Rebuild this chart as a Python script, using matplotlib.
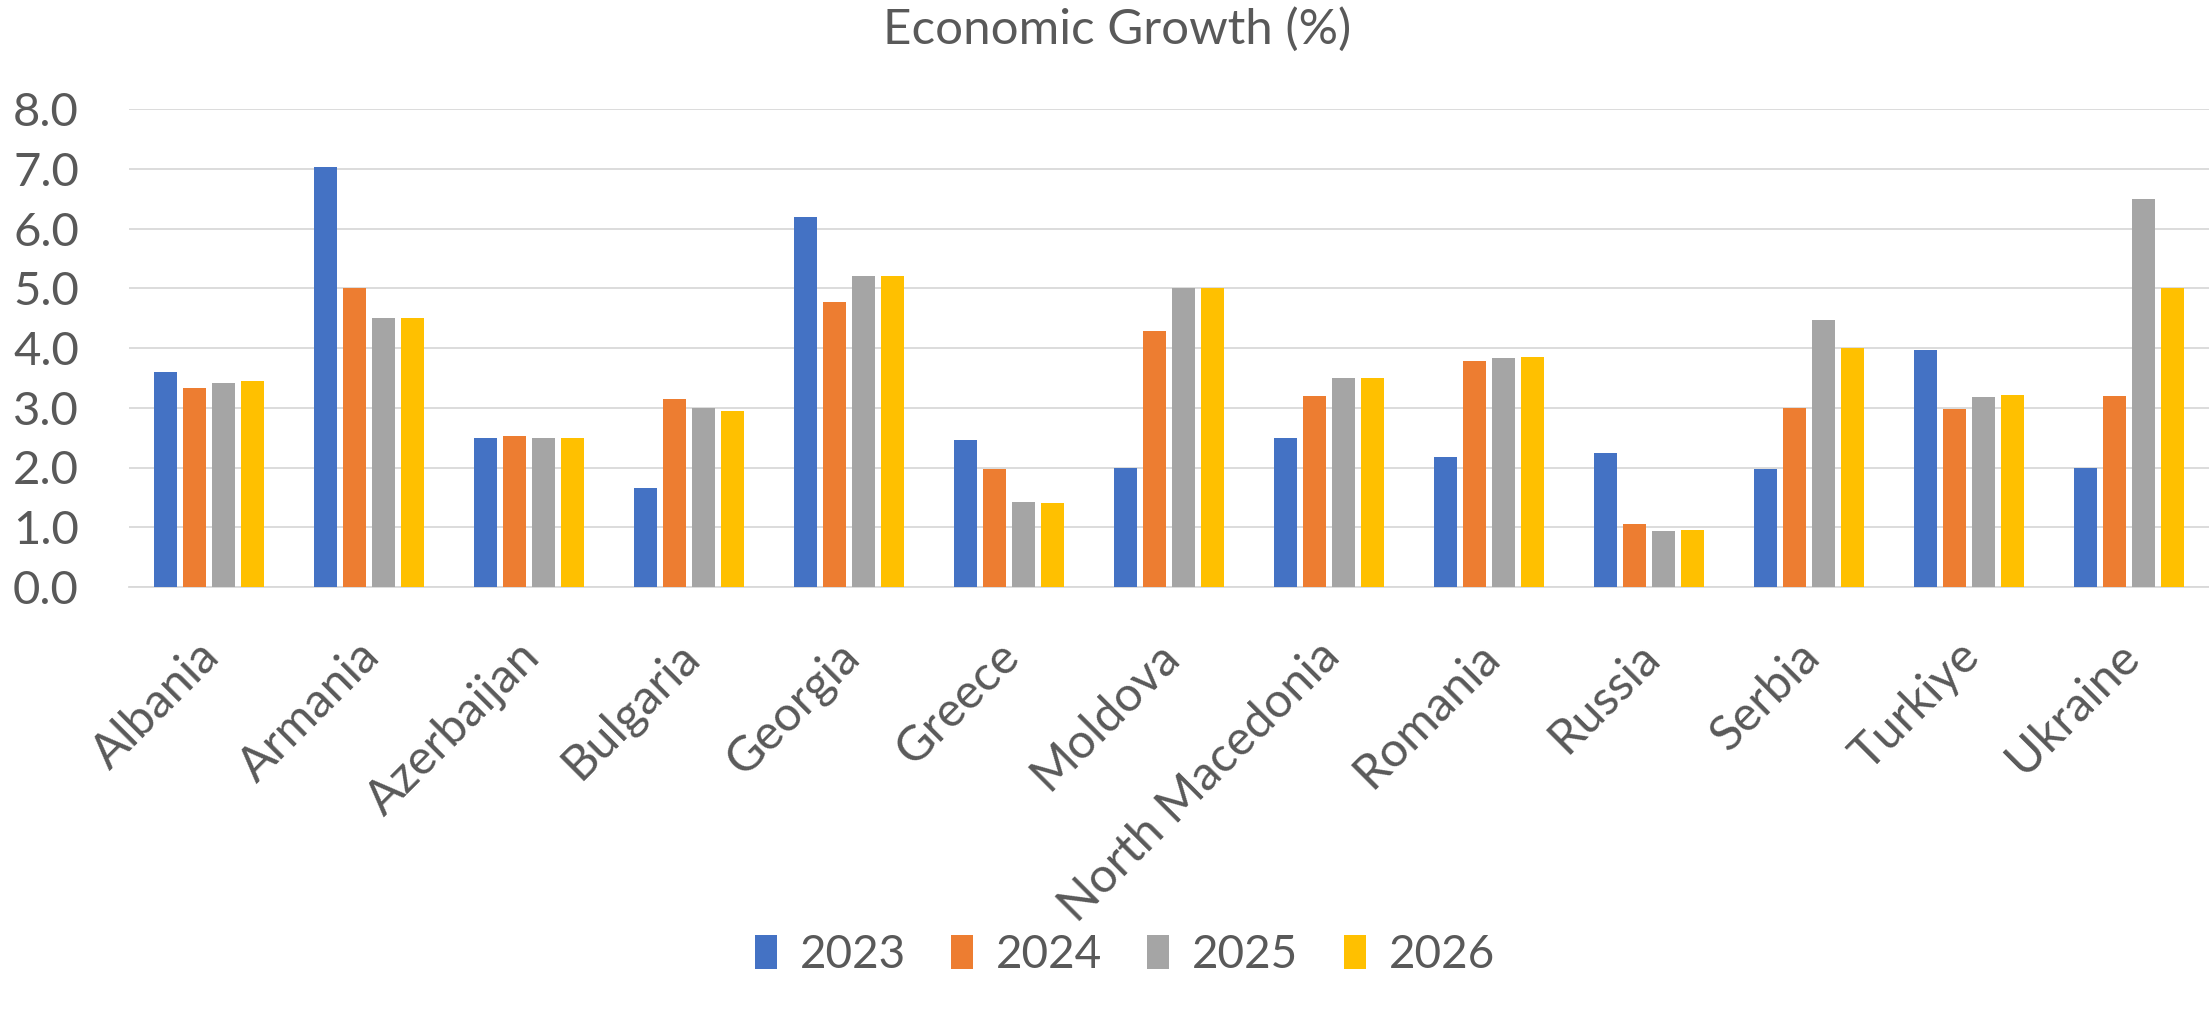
import matplotlib
matplotlib.use("Agg")
import matplotlib.pyplot as plt
import matplotlib.transforms as mtransforms
import numpy as np

# data
countries = ["Albania", "Armania", "Azerbaijan", "Bulgaria", "Georgia", "Greece", "Moldova",
             "North Macedonia", "Romania", "Russia", "Serbia", "Turkiye", "Ukraine"]
years = ["2023", "2024", "2025", "2026"]
g2023 = [3.60, 7.03, 2.50, 1.66, 6.19, 2.46, 2.00, 2.50, 2.18, 2.25, 1.97, 3.96, 2.00]
g2024 = [3.33, 5.00, 2.53, 3.15, 4.77, 1.97, 4.28, 3.19, 3.78, 1.05, 3.00, 2.98, 3.19]
g2025 = [3.42, 4.50, 2.50, 3.00, 5.20, 1.42, 5.00, 3.50, 3.84, 0.94, 4.47, 3.18, 6.50]
g2026 = [3.45, 4.50, 2.50, 2.94, 5.20, 1.40, 5.00, 3.50, 3.85, 0.95, 4.00, 3.22, 5.00]
colors = ["#4472C4", "#ED7D31", "#A5A5A5", "#FFC000"]

text_col = "#595959"
grid_col = "#D9D9D9"
plt.rcParams["font.family"] = ["Lato", "DejaVu Sans"]

fig = plt.figure(figsize=(22.09, 10.15), dpi=100)
ax = fig.add_axes([129 / 2209, 1 - 587 / 1015, 1 - 129 / 2209, (587 - 109) / 1015])

x = np.arange(len(countries))
slot = 0.181
width = 0.144
series = [g2023, g2024, g2025, g2026]
for i, vals in enumerate(series):
    ax.bar(x + (i - 1.5) * slot, vals, width=width, color=colors[i], label=years[i], zorder=3)

ax.set_xlim(-0.5, len(countries) - 0.5)
ax.set_ylim(0, 8)
ax.set_yticks(np.arange(0, 9, 1))
ax.set_yticklabels([f"{v:.1f}" for v in np.arange(0, 9, 1)])
ax.yaxis.grid(True, color=grid_col, linewidth=1.3)
ax.set_axisbelow(True)

for s in ["top", "right", "left"]:
    ax.spines[s].set_visible(False)
ax.spines["bottom"].set_color(grid_col)
ax.spines["bottom"].set_linewidth(1.3)

ax.tick_params(axis="y", length=0, pad=36, labelsize=34, labelcolor=text_col)
ax.tick_params(axis="x", length=0, pad=0, labelsize=35, labelcolor=text_col)

ax.set_xticks(x)
ax.set_xticklabels(countries, rotation=45, ha="right", va="baseline", rotation_mode="anchor")
# shift the rotated labels so their ends sit below the grey bars
offset = mtransforms.ScaledTranslation(13 / 100, -72 / 100, fig.dpi_scale_trans)
for lab in ax.get_xticklabels():
    lab.set_transform(lab.get_transform() + offset)

# title
fig.text(1117 / 2209, 1 - 44 / 1015, "Economic Growth (%)", ha="center", va="baseline",
         fontsize=35.5, color=text_col)

# legend
leg = fig.legend(loc="center", bbox_to_anchor=(1125 / 2209, 1 - 955 / 1015), ncol=4,
                 frameon=False, fontsize=33, handlelength=0.48, handleheight=0.74,
                 handletextpad=0.5, columnspacing=0.98)
for t in leg.get_texts():
    t.set_color(text_col)

plt.savefig("out.png", dpi=100)
